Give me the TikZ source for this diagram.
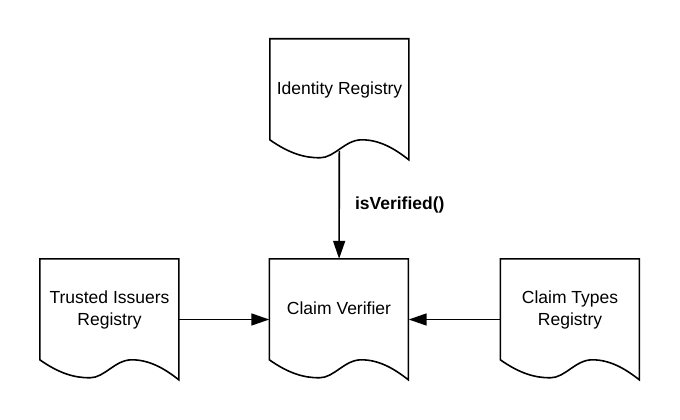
\documentclass[tikz,border=0pt]{standalone}
\usepackage{fontspec}
\setmainfont{Liberation Sans}
\usetikzlibrary{arrows.meta}

\tikzset{
    registry/.style={minimum width=139pt,minimum height=121pt,inner sep=0pt,
        align=center,text depth=22pt,font=\fontsize{17.5}{22}\selectfont},
    flow/.style={line width=1.6pt,-{Triangle[length=18pt,width=12pt]}}
}

\begin{document}
\begin{tikzpicture}[x=1pt,y=-1pt]
    \useasboundingbox (0,0) rectangle (680,420);
    \node[registry] (idreg) at (339.5,99.5) {Identity Registry};
    \node[registry] (verifier) at (339,319.5) {Claim Verifier};
    \node[registry] (trusted) at (109.5,319.5) {Trusted Issuers\\Registry};
    \node[registry] (types) at (570,319.5) {Claim Types\\Registry};
    % document outlines with the wavy bottom
    \foreach \d in {idreg,verifier,trusted,types} {
        \begin{scope}[shift={(\d.north west)}]
            \draw[line width=1.6pt] (0,0) -- (139,0) -- (139,121)
                .. controls (125,110) and (110,101) .. (92,101)
                .. controls (75,101) and (65,119) .. (50,119)
                .. controls (35,119) and (20,115) .. (0,101) -- cycle;
            \coordinate (\d-wave) at (69.5,112);
        \end{scope}
    }
    \draw[flow] (idreg-wave) -- (verifier)
        node[midway,right=15pt,inner sep=0pt,font=\bfseries\fontsize{17.5}{21}\selectfont] (verifycall) {isVerified()};
    \draw[flow] (trusted) -- (verifier);
    \draw[flow] (types) -- (verifier);
\end{tikzpicture}
\end{document}
